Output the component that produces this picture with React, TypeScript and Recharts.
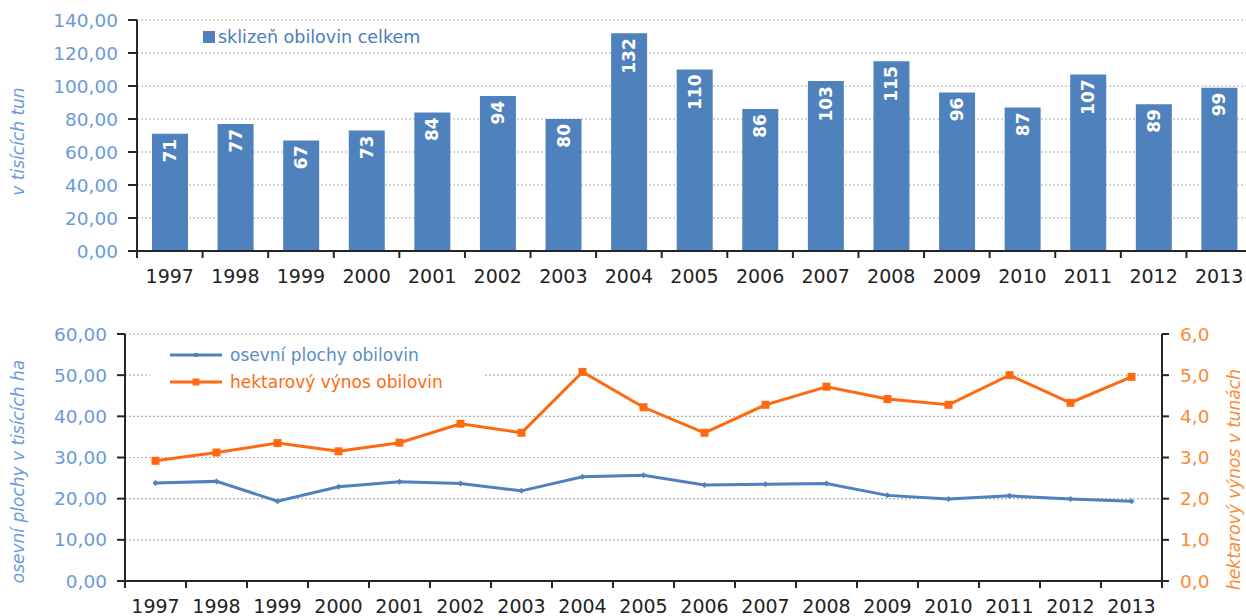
import React from "react";
import {
  Bar,
  BarChart,
  CartesianGrid,
  ComposedChart,
  Line,
  XAxis,
  YAxis,
} from "recharts";

const YEARS = [
  "1997", "1998", "1999", "2000", "2001", "2002", "2003", "2004", "2005",
  "2006", "2007", "2008", "2009", "2010", "2011", "2012", "2013",
];
// sklizeň obilovin celkem (tis. t)
const HARVEST = [71, 77, 67, 73, 84, 94, 80, 132, 110, 86, 103, 115, 96, 87, 107, 89, 99];
// osevní plochy obilovin (tis. ha)
const AREA = [23.8, 24.2, 19.4, 22.9, 24.1, 23.7, 21.9, 25.3, 25.7, 23.3, 23.5, 23.7, 20.8, 19.9, 20.7, 19.9, 19.4];
// hektarový výnos obilovin (t/ha)
const YIELD = [2.92, 3.12, 3.35, 3.15, 3.36, 3.82, 3.6, 5.08, 4.22, 3.6, 4.28, 4.72, 4.42, 4.28, 5.0, 4.33, 4.96];

const TOP_TICKS = [0, 20, 40, 60, 80, 100, 120, 140];
const LEFT_TICKS = [0, 10, 20, 30, 40, 50, 60];
const RIGHT_TICKS = [0, 1, 2, 3, 4, 5, 6];

const FONT = "'DejaVu Sans', Arial, sans-serif";
const BLUE = "#4f81bd";
const ORANGE = "#ff6a10";
const TICK_BLUE = "#6a9bd8";
const TICK_ORANGE = "#fd8a34";
const AXIS = "#262626";

const barData = YEARS.map((year, i) => ({ year, harvest: HARVEST[i] }));
const lineData = YEARS.map((year, i) => ({ year, area: AREA[i], yld: YIELD[i] }));

const fmt2 = (v: number) => v.toFixed(2).replace(".", ",");
const fmt1 = (v: number) => v.toFixed(1).replace(".", ",");

// year label + tick mark between categories (like Excel)
const YearTick = (props: any) => {
  const { x, y, payload, index, visibleTicksCount } = props;
  const off = payload?.offset ?? 0;
  return (
    <g>
      <line x1={x - off} x2={x - off} y1={y} y2={y + 7} stroke={AXIS} strokeWidth={2} />
      {index === visibleTicksCount - 1 && (
        <line x1={x + off} x2={x + off} y1={y} y2={y + 7} stroke={AXIS} strokeWidth={2} />
      )}
      <text x={x} y={y + 32} textAnchor="middle" fill="#222" fontSize={19} fontFamily={FONT}>
        {payload.value}
      </text>
    </g>
  );
};

const BarValue = (props: any) => {
  const { x, y, width, value } = props;
  const cx = x + width / 2;
  const cy = y + 5;
  return (
    <text
      transform={`rotate(-90 ${cx} ${cy})`}
      x={cx}
      y={cy}
      textAnchor="end"
      dominantBaseline="central"
      fill="#fff"
      fontSize={17}
      fontWeight="bold"
      fontFamily={FONT}
    >
      {Math.round(value)}
    </text>
  );
};

const axisTitle = (text: string, color: string, dx: number, dy: number) => (p: any) => {
  const vb = p.viewBox;
  const cx = vb.x + dx;
  const cy = vb.y + vb.height / 2 + dy;
  return (
    <text
      transform={`rotate(-90 ${cx} ${cy})`}
      x={cx}
      y={cy}
      textAnchor="middle"
      dominantBaseline="central"
      fill={color}
      fontSize={17}
      fontStyle="italic"
      fontFamily={FONT}
    >
      {text}
    </text>
  );
};

const SquareDot = (size: number, color: string) => (p: any) => {
  const { cx, cy, index } = p;
  if (cx == null || cy == null) return <g key={index} />;
  return <rect key={index} x={cx - size / 2} y={cy - size / 2} width={size} height={size} fill={color} />;
};

const DiamondDot = (p: any) => {
  const { cx, cy, index } = p;
  if (cx == null || cy == null) return <g key={index} />;
  const r = 3;
  return <path key={index} d={`M${cx},${cy - r}L${cx + r},${cy}L${cx},${cy + r}L${cx - r},${cy}Z`} fill={BLUE} />;
};

const TopLegend = () => (
  <div
    style={{
      position: "absolute", left: 203, top: 27,
      fontFamily: FONT, fontSize: 17.5, color: "#4a7ebb", display: "flex", alignItems: "center",
    }}
  >
    <span style={{ display: "inline-block", width: 12, height: 12, background: BLUE, marginRight: 3 }} />
    sklizeň obilovin celkem
  </div>
);

const BottomLegend = () => (
  <div
    style={{
      position: "absolute", left: 150, top: 341, width: 335, height: 58, paddingLeft: 20,
      boxSizing: "border-box", background: "#fff", fontFamily: FONT, fontSize: 17,
    }}
  >
    {[
      { name: "osevní plochy obilovin", color: BLUE, text: "#5b8cc8", sq: 4 },
      { name: "hektarový výnos obilovin", color: ORANGE, text: ORANGE, sq: 7 },
    ].map((e) => (
      <div key={e.name} style={{ display: "flex", alignItems: "center", height: 27 }}>
        <svg width={52} height={12} style={{ marginRight: 8 }}>
          <line x1={0} x2={52} y1={6} y2={6} stroke={e.color} strokeWidth={3} />
          <rect x={26 - e.sq / 2} y={6 - e.sq / 2} width={e.sq} height={e.sq} fill={e.color} />
        </svg>
        <span style={{ color: e.text }}>{e.name}</span>
      </div>
    ))}
  </div>
);

export default function App() {
  return (
    <div style={{ position: "absolute", left: 0, top: 0, width: 1246, height: 616, overflow: "hidden", background: "#fff" }}>
      <div style={{ position: "absolute", left: 0, top: 0 }}>
        <BarChart width={1252} height={300} data={barData} margin={{ top: 20, right: 0, left: 0, bottom: 0 }}>
          <CartesianGrid vertical={false} stroke="#b0b0b0" strokeDasharray="2 2" strokeWidth={1.2} />
          <XAxis
            dataKey="year"
            height={49}
            axisLine={{ stroke: AXIS, strokeWidth: 2 }}
            tickLine={false}
            tickSize={0}
            tickMargin={0}
            interval={0}
            tick={<YearTick />}
          />
          <YAxis
            width={137}
            domain={[0, 140]}
            ticks={TOP_TICKS}
            tickFormatter={fmt2}
            axisLine={{ stroke: AXIS, strokeWidth: 2 }}
            tickLine={{ stroke: AXIS, strokeWidth: 2 }}
            tickSize={9}
            tickMargin={10}
            tick={{ fill: TICK_BLUE, fontSize: 18.5, fontFamily: FONT }}
            label={{ content: axisTitle("v tisících tun", TICK_BLUE, 18, 6) }}
          />
          <Bar dataKey="harvest" fill={BLUE} barSize={36} isAnimationActive={false} label={<BarValue />} />
        </BarChart>
      </div>
      <TopLegend />
      <div style={{ position: "absolute", left: 0, top: 300 }}>
        <ComposedChart width={1246} height={316} data={lineData} margin={{ top: 34, right: 0, left: 0, bottom: 0 }}>
          <CartesianGrid vertical={false} yAxisId="left" stroke="#b0b0b0" strokeDasharray="2 2" strokeWidth={1.2} />
          <XAxis
            dataKey="year"
            scale="band"
            height={35}
            axisLine={{ stroke: AXIS, strokeWidth: 2 }}
            tickLine={false}
            tickSize={0}
            tickMargin={0}
            interval={0}
            tick={<YearTick />}
          />
          <YAxis
            yAxisId="left"
            width={125}
            domain={[0, 60]}
            ticks={LEFT_TICKS}
            tickFormatter={fmt2}
            axisLine={{ stroke: AXIS, strokeWidth: 2 }}
            tickLine={{ stroke: AXIS, strokeWidth: 2 }}
            tickSize={8}
            tickMargin={10}
            tick={{ fill: TICK_BLUE, fontSize: 18.5, fontFamily: FONT }}
            label={{ content: axisTitle("osevní plochy v tisících ha", TICK_BLUE, 18, 14) }}
          />
          <YAxis
            yAxisId="right"
            orientation="right"
            width={84}
            domain={[0, 6]}
            ticks={RIGHT_TICKS}
            tickFormatter={fmt1}
            axisLine={{ stroke: AXIS, strokeWidth: 2 }}
            tickLine={{ stroke: AXIS, strokeWidth: 2 }}
            tickSize={7}
            tickMargin={11}
            tick={{ fill: TICK_ORANGE, fontSize: 18.5, fontFamily: FONT }}
            label={{ content: axisTitle("hektarový výnos v tunách", TICK_ORANGE, 72, 22) }}
          />
          <Line
            yAxisId="left"
            dataKey="area"
            stroke={BLUE}
            strokeWidth={3}
            dot={DiamondDot}
            isAnimationActive={false}
          />
          <Line
            yAxisId="right"
            dataKey="yld"
            stroke={ORANGE}
            strokeWidth={3}
            dot={SquareDot(8, ORANGE)}
            isAnimationActive={false}
          />
        </ComposedChart>
      </div>
      <BottomLegend />
    </div>
  );
}
